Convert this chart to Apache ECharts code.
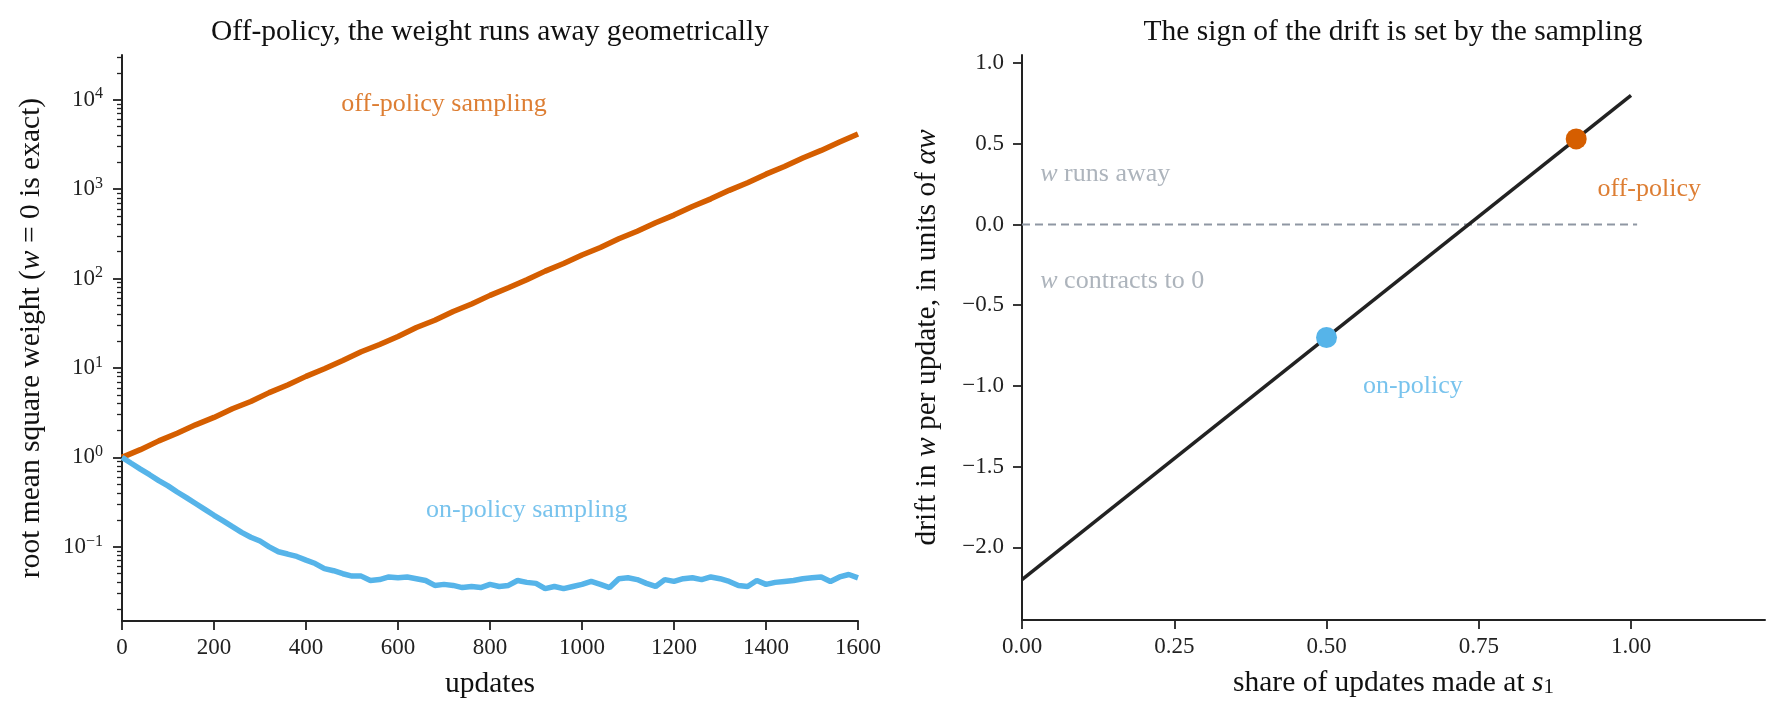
<!DOCTYPE html>
<html>
<head>
<meta charset="utf-8">
<title>rms weight and drift</title>
<script src="https://cdn.jsdelivr.net/npm/echarts@6/dist/echarts.min.js"></script>
<style>
html, body { margin: 0; padding: 0; background: #fff; }
#chart { width: 1777px; height: 720px; }
</style>
</head>
<body>
<div id="chart"></div>
<script>
// left panel: root mean square weight vs updates
var updatesOff = [0,40,80,120,160,200,240,280,320,360,400,440,480,520,560,600,640,680,720,760,
    800,840,880,920,960,1000,1040,1080,1120,1160,1200,1240,1280,1320,1360,1400,1440,1480,1520,1560,1600];
var rmsOff = [1.00,1.22,1.53,1.86,2.31,2.80,3.50,4.22,5.30,6.45,8.05,9.80,12.1,15.2,18.3,22.5,28.3,34.1,42.8,52.0,
    64.8,79.0,97.0,121,147,183,222,278,338,420,512,640,778,968,1180,1470,1790,2230,2710,3370,4140];

var updatesOn = [0,20,40,60,80,100,120,140,160,180,200,220,240,260,280,300,320,340,360,380,
    400,420,440,460,480,500,520,540,560,580,600,620,640,660,680,700,720,740,760,780,
    800,820,840,860,880,900,920,940,960,980,1000,1020,1040,1060,1080,1100,1120,1140,1160,1180,
    1200,1220,1240,1260,1280,1300,1320,1340,1360,1380,1400,1420,1440,1460,1480,1500,1520,1540,1560,1580,1600];
var rmsOn = [1.00,0.86,0.74,0.64,0.55,0.48,0.41,0.355,0.305,0.262,0.225,0.195,0.168,0.145,0.128,0.116,0.100,0.088,0.083,0.078,
    0.071,0.065,0.057,0.054,0.050,0.047,0.047,0.042,0.043,0.046,0.045,0.046,0.044,0.042,0.037,0.038,0.037,0.035,0.036,0.035,
    0.038,0.036,0.037,0.042,0.040,0.039,0.034,0.036,0.034,0.036,0.038,0.041,0.038,0.035,0.044,0.045,0.043,0.039,0.036,0.043,
    0.041,0.044,0.045,0.043,0.046,0.044,0.041,0.037,0.036,0.042,0.038,0.040,0.041,0.042,0.044,0.045,0.046,0.041,0.046,0.049,0.045];

var logMajor = [0.1, 1, 10, 100, 1000, 10000];
var logMinorSteps = [2, 3, 4, 5, 6, 7, 8, 9];

// right panel: drift vs share of updates at s1
var shareX = [0, 1.0];
var driftY = [-2.2, 0.8];
var zeroX = [0, 1.01];
var onPolicyPt = [0.5, -0.7];
var offPolicyPt = [0.91, 0.53];
var shareTicks = [0, 0.25, 0.5, 0.75, 1.0];
var driftTicks = [-2.0, -1.5, -1.0, -0.5, 0.0, 0.5, 1.0];

var ORANGE = '#D55E00', BLUE = '#56B4E9', INK = '#222222', GREY = '#99a1ab';
var FONT = 'Liberation Serif';

function pairs(xs, ys) {
    var out = [];
    for (var i = 0; i < xs.length; i++) out.push([xs[i], ys[i]]);
    return out;
}

var logMinor = [];
logMajor.concat([0.01]).forEach(function (m) {
    logMinorSteps.forEach(function (s) { logMinor.push(+(m * s).toPrecision(3)); });
});

function minus(v, d) {
    return (v < 0 ? '\u2212' : '') + Math.abs(v).toFixed(d);
}

var nameStyle = {
    fontFamily: FONT, fontSize: 29.5, color: '#111',
    rich: {
        i: { fontFamily: FONT, fontSize: 29.5, fontStyle: 'italic', color: '#111' },
        sub: { fontFamily: FONT, fontSize: 21, color: '#111', verticalAlign: 'bottom', lineHeight: 21 }
    }
};
var tickLabel = { fontFamily: FONT, fontSize: 23, color: INK };

var myChart = echarts.init(document.getElementById('chart'));

var option = {
    backgroundColor: '#fff',
    animation: false,
    title: [
        { text: 'Off-policy, the weight runs away geometrically', left: 490, top: 17, textAlign: 'center', padding: 0,
          textStyle: { fontFamily: FONT, fontSize: 29.5, fontWeight: 'normal', color: '#111' } },
        { text: 'The sign of the drift is set by the sampling', left: 1393, top: 17, textAlign: 'center', padding: 0,
          textStyle: { fontFamily: FONT, fontSize: 29.5, fontWeight: 'normal', color: '#111' } }
    ],
    grid: [
        { left: 122, top: 55, width: 736, height: 566 },
        { left: 1022, top: 55, width: 743, height: 565 }
    ],
    xAxis: [
        { gridIndex: 0, type: 'value', min: 0, max: 1600, interval: 200,
          name: 'updates', nameLocation: 'middle', nameGap: 48, nameTextStyle: nameStyle,
          axisLine: { onZero: false, lineStyle: { color: INK, width: 2 } },
          axisTick: { length: 9, lineStyle: { color: INK, width: 1.8 } },
          axisLabel: Object.assign({ margin: 15, formatter: function (v) { return String(v); } }, tickLabel),
          splitLine: { show: false } },
        { gridIndex: 1, type: 'value', min: 0, max: 1.22,
          name: 'share of updates made at {i|s}{sub|1}', nameLocation: 'middle', nameGap: 48, nameTextStyle: nameStyle,
          axisLine: { onZero: false, lineStyle: { color: INK, width: 2 } },
          axisTick: { length: 9, customValues: shareTicks, lineStyle: { color: INK, width: 1.8 } },
          axisLabel: Object.assign({ margin: 15, customValues: shareTicks,
              formatter: function (v) { return v.toFixed(2); } }, tickLabel),
          splitLine: { show: false } }
    ],
    yAxis: [
        { gridIndex: 0, type: 'log', logBase: 10, min: 0.0148, max: 31600, position: 'left',
          name: 'root mean square weight ({i|w} = 0 is exact)', nameLocation: 'middle', nameGap: 76,
          nameTextStyle: nameStyle,
          axisLine: { show: true, onZero: false, lineStyle: { color: INK, width: 2 } },
          axisTick: { length: 9, customValues: logMajor, lineStyle: { color: INK, width: 1.8 } },
          axisLabel: { margin: 19, customValues: logMajor,
              formatter: function (v) {
                  var e = Math.round(Math.log10(v));
                  return '{b|10}{s|' + (e < 0 ? '\u2212' + (-e) : e) + '}';
              },
              rich: {
                  b: { fontFamily: FONT, fontSize: 23, color: INK, lineHeight: 27 },
                  s: { fontFamily: FONT, fontSize: 16, color: INK, lineHeight: 16, verticalAlign: 'top' }
              } },
          splitLine: { show: false } },
        { gridIndex: 0, type: 'log', logBase: 10, min: 0.0148, max: 31600, position: 'left',
          axisLine: { show: false },
          axisTick: { length: 5, customValues: logMinor, lineStyle: { color: INK, width: 1.3 } },
          axisLabel: { show: false },
          splitLine: { show: false } },
        { gridIndex: 1, type: 'value', min: -2.45, max: 1.05, position: 'left',
          name: 'drift in {i|w} per update, in units of {i|\u03b1w}', nameLocation: 'middle', nameGap: 80,
          nameTextStyle: nameStyle,
          axisLine: { show: true, onZero: false, lineStyle: { color: INK, width: 2 } },
          axisTick: { length: 9, customValues: driftTicks, lineStyle: { color: INK, width: 1.8 } },
          axisLabel: Object.assign({ margin: 18, customValues: driftTicks,
              formatter: function (v) { return minus(v, 1); } }, tickLabel),
          splitLine: { show: false } }
    ],
    series: [
        { type: 'line', xAxisIndex: 0, yAxisIndex: 0, data: pairs(updatesOff, rmsOff), showSymbol: false,
          lineStyle: { color: ORANGE, width: 5.5 }, z: 3 },
        { type: 'line', xAxisIndex: 0, yAxisIndex: 0, data: pairs(updatesOn, rmsOn), showSymbol: false,
          lineStyle: { color: BLUE, width: 5.5 }, z: 3 },
        { type: 'scatter', xAxisIndex: 0, yAxisIndex: 0, symbolSize: 0, silent: true,
          data: [[700, 9000]],
          label: { show: true, position: 'inside', formatter: 'off-policy sampling',
                   fontFamily: FONT, fontSize: 26, color: ORANGE } },
        { type: 'scatter', xAxisIndex: 0, yAxisIndex: 0, symbolSize: 0, silent: true,
          data: [[880, 0.26]],
          label: { show: true, position: 'inside', formatter: 'on-policy sampling',
                   fontFamily: FONT, fontSize: 26, color: BLUE } },

        { type: 'line', xAxisIndex: 1, yAxisIndex: 2, data: pairs(zeroX, [0, 0]), showSymbol: false,
          lineStyle: { color: '#8f97a3', width: 2, type: [8, 5] }, z: 2 },
        { type: 'line', xAxisIndex: 1, yAxisIndex: 2, data: pairs(shareX, driftY), showSymbol: false,
          lineStyle: { color: INK, width: 3.5 }, z: 3 },
        { type: 'scatter', xAxisIndex: 1, yAxisIndex: 2, data: [onPolicyPt], symbolSize: 21,
          itemStyle: { color: BLUE, opacity: 1 }, z: 4 },
        { type: 'scatter', xAxisIndex: 1, yAxisIndex: 2, data: [offPolicyPt], symbolSize: 21,
          itemStyle: { color: ORANGE, opacity: 1 }, z: 4 },
        { type: 'scatter', xAxisIndex: 1, yAxisIndex: 2, symbolSize: 0, silent: true,
          data: [
              { value: [0.03, 0.31], label: { formatter: '{i|w} runs away' } },
              { value: [0.03, -0.35], label: { formatter: '{i|w} contracts to 0' } }
          ],
          label: { show: true, position: [0, 0], align: 'left', verticalAlign: 'middle',
                   fontFamily: FONT, fontSize: 26, color: GREY,
                   rich: { i: { fontFamily: FONT, fontSize: 26, fontStyle: 'italic', color: GREY } } } },
        { type: 'scatter', xAxisIndex: 1, yAxisIndex: 2, symbolSize: 0, silent: true,
          data: [[0.56, -1.0]],
          label: { show: true, position: [0, 0], align: 'left', verticalAlign: 'middle', formatter: 'on-policy',
                   fontFamily: FONT, fontSize: 26, color: BLUE } },
        { type: 'scatter', xAxisIndex: 1, yAxisIndex: 2, symbolSize: 0, silent: true,
          data: [[0.945, 0.22]],
          label: { show: true, position: [0, 0], align: 'left', verticalAlign: 'middle', formatter: 'off-policy',
                   fontFamily: FONT, fontSize: 26, color: ORANGE } }
    ]
};

myChart.setOption(option);
</script>
</body>
</html>
